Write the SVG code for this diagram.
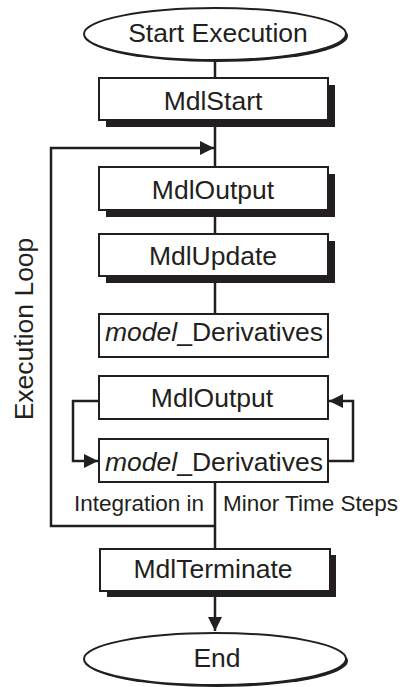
<svg xmlns="http://www.w3.org/2000/svg" width="410" height="687" viewBox="0 0 410 687">
<defs>
<style>
.box{fill:#fff;stroke:#231f20;stroke-width:2}
.sh{fill:#231f20}
.t{font-family:"Liberation Sans",Arial,sans-serif;font-size:26.5px;fill:#231f20;text-anchor:middle}
.s{font-family:"Liberation Sans",Arial,sans-serif;font-size:22.5px;fill:#231f20}
.c{fill:none;stroke:#231f20;stroke-width:2.5}
</style>
<marker id="ah" markerUnits="userSpaceOnUse" markerWidth="14" markerHeight="14" refX="14" refY="7" orient="auto">
<path d="M0,0 L14,7 L0,14 z" fill="#231f20"/>
</marker>
</defs>
<rect width="410" height="687" fill="#fff"/>
<g id="connectors">
<line class="c" x1="215" y1="58" x2="215" y2="78"/>
<line class="c" x1="215" y1="120" x2="215" y2="167"/>
<polyline class="c" points="215,526 51,526 51,148 214,148" marker-end="url(#ah)"/>
<line class="c" x1="215" y1="210" x2="215" y2="234"/>
<line class="c" x1="215" y1="276" x2="215" y2="314"/>
<polyline class="c" points="99,401 73,401 73,461 98,461" marker-end="url(#ah)"/>
<polyline class="c" points="328,461 353,461 353,401 329,401" marker-end="url(#ah)"/>
<line class="c" x1="215" y1="482" x2="215" y2="549"/>
<line class="c" x1="215" y1="591" x2="215" y2="631" marker-end="url(#ah)"/>
</g>
<g id="start">
<ellipse cx="217" cy="36" rx="131" ry="26" class="sh"/>
<ellipse cx="215" cy="34" rx="131" ry="26" fill="#fff" stroke="#231f20" stroke-width="2"/>
<text class="t" x="218" y="42">Start Execution</text>
</g>
<g id="mdlstart">
<rect class="sh" x="106" y="85" width="229" height="42"/>
<rect class="box" x="99" y="78" width="229" height="42"/>
<text class="t" x="213" y="110">MdlStart</text>
</g>
<g id="mdloutput1">
<rect class="sh" x="106" y="174" width="229" height="43"/>
<rect class="box" x="99" y="167" width="229" height="43"/>
<text class="t" x="213" y="199">MdlOutput</text>
</g>
<g id="mdlupdate">
<rect class="sh" x="106" y="241" width="229" height="42"/>
<rect class="box" x="99" y="234" width="229" height="42"/>
<text class="t" x="213" y="265">MdlUpdate</text>
</g>
<g id="derivatives1">
<rect class="box" x="99" y="314" width="229" height="43"/>
<text class="t" x="214" y="341"><tspan font-style="italic">model</tspan>_Derivatives</text>
</g>
<g id="mdloutput2">
<rect class="box" x="99" y="376" width="229" height="43"/>
<text class="t" x="212" y="407">MdlOutput</text>
</g>
<g id="derivatives2">
<rect class="box" x="99" y="439" width="229" height="43"/>
<text class="t" x="214" y="471"><tspan font-style="italic">model</tspan>_Derivatives</text>
</g>
<g id="labels">
<text class="s" x="204" y="511" text-anchor="end">Integration in</text>
<text class="s" x="223" y="511">Minor Time Steps</text>
<text class="t" transform="translate(33,329) rotate(-90)">Execution Loop</text>
</g>
<g id="mdlterminate">
<rect class="sh" x="107" y="555" width="229" height="42"/>
<rect class="box" x="100" y="549" width="230" height="42"/>
<text class="t" x="213" y="578">MdlTerminate</text>
</g>
<g id="end">
<ellipse cx="217" cy="661" rx="131" ry="26" class="sh"/>
<ellipse cx="215" cy="659" rx="131" ry="26" fill="#fff" stroke="#231f20" stroke-width="2"/>
<text class="t" x="217" y="667">End</text>
</g>
</svg>
